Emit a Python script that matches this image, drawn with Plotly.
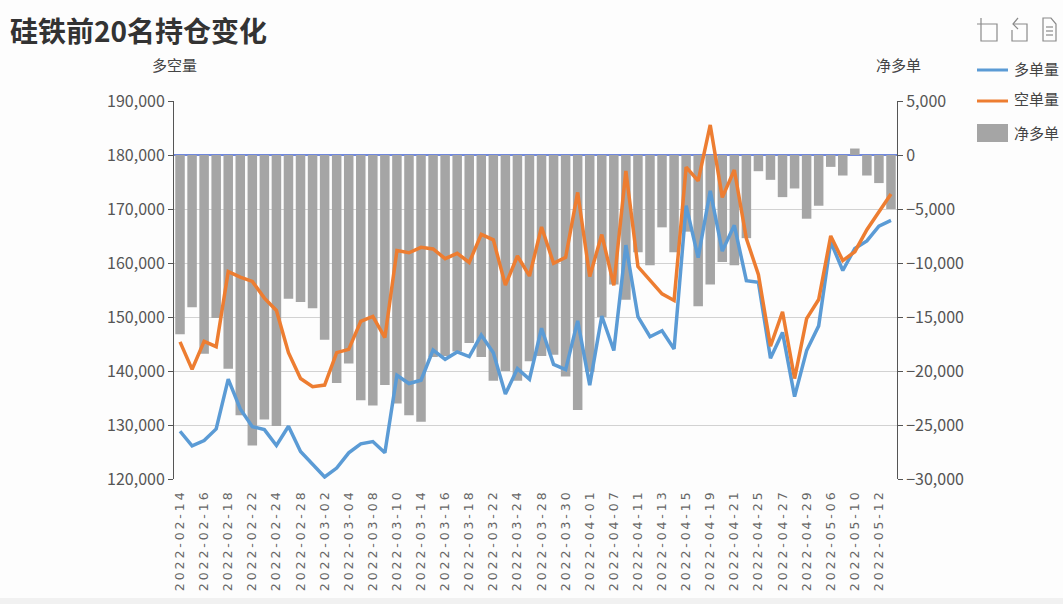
import plotly.graph_objects as go

dates = ["2022-02-14","2022-02-15","2022-02-16","2022-02-17","2022-02-18","2022-02-21","2022-02-22","2022-02-23","2022-02-24","2022-02-25",
"2022-02-28","2022-03-01","2022-03-02","2022-03-03","2022-03-04","2022-03-07","2022-03-08","2022-03-09","2022-03-10","2022-03-11",
"2022-03-14","2022-03-15","2022-03-16","2022-03-17","2022-03-18","2022-03-21","2022-03-22","2022-03-23","2022-03-24","2022-03-25",
"2022-03-28","2022-03-29","2022-03-30","2022-03-31","2022-04-01","2022-04-06","2022-04-07","2022-04-08","2022-04-11","2022-04-12",
"2022-04-13","2022-04-14","2022-04-15","2022-04-18","2022-04-19","2022-04-20","2022-04-21","2022-04-22","2022-04-25","2022-04-26",
"2022-04-27","2022-04-28","2022-04-29","2022-05-05","2022-05-06","2022-05-09","2022-05-10","2022-05-11","2022-05-12","2022-05-13"]

long_qty = [128840,126140,127120,129270,138480,132960,129700,129150,126200,129760,
125100,122820,120370,122030,124850,126510,126940,124850,139220,137680,
138300,143880,142170,143520,142660,146650,143390,135720,140450,138480,
147930,141220,140250,149280,137380,150190,143790,163310,150070,146350,
147450,144090,170630,160990,173370,162210,166970,156720,156410,142380,
147140,135250,143790,148360,163920,158610,162700,164100,166840,167880]

short_qty = [145400,140300,145500,144500,158400,157400,156600,153500,151200,143400,
138600,137100,137400,143400,144000,149200,150100,146200,162300,161900,
162900,162600,160800,161800,160100,165300,164300,155900,161300,157600,
166660,159950,161050,173070,157510,165260,155860,177030,159340,156900,
154280,153060,177760,175200,185570,172150,177210,164530,157820,144580,
150980,138600,149700,153240,165010,160440,162090,166170,169400,172760]

net_long = [-16600,-14100,-18400,-15100,-19800,-24100,-26900,-24500,-25100,-13300,
-13600,-14200,-17100,-21100,-19300,-22700,-23200,-21300,-23000,-24100,
-24700,-18700,-18600,-18200,-17400,-18700,-20900,-20000,-20900,-19100,
-18600,-18500,-20500,-23600,-20100,-15000,-12000,-13400,-9000,-10200,
-6700,-9000,-7100,-14000,-12000,-9900,-10200,-7700,-1500,-2300,
-3900,-3100,-5900,-4700,-1100,-1900,600,-1900,-2600,-5000]

x_ticks = dates[::2]
left_ticks = [120000,130000,140000,150000,160000,170000,180000,190000]
right_ticks = [-30000,-25000,-20000,-15000,-10000,-5000,0,5000]

TITLE = "硅铁前20名持仓变化"
CJK = "Noto Sans CJK SC"
BLUE, ORANGE, GREY = "#5b9bd5", "#ed7d31", "#a5a5a5"

L, R, T, B = 174, 897, 101, 479
def px(x): return (x - L) / (R - L)
def py(y): return (B - y) / (B - T)

def path(points, close=False):
    s = "M " + " L ".join(f"{px(x):.5f},{py(y):.5f}" for x, y in points)
    return s + (" Z" if close else "")

fig = go.Figure()
fig.add_bar(x=dates, y=net_long, name="净多单", marker_color=GREY, marker_line_width=0, width=0.79, yaxis="y")
fig.add_scatter(x=dates, y=long_qty, name="多单量", mode="lines", line=dict(color=BLUE, width=3.5), yaxis="y2")
fig.add_scatter(x=dates, y=short_qty, name="空单量", mode="lines", line=dict(color=ORANGE, width=3.5), yaxis="y2")

icon = dict(color="#8a8a8a", width=1.2)
shapes = [
    dict(type="rect", xref="paper", yref="paper", x0=px(0), x1=px(1063), y0=py(604), y1=py(598),
         fillcolor="#f1f1f1", line_width=0, layer="below"),
    dict(type="path", xref="paper", yref="paper", line=icon, path=path([(981,18),(981,41),(997,41),(997,24),(977,24)])),
    dict(type="path", xref="paper", yref="paper", line=icon, path=path([(1018,18),(1013,24),(1018,29)])),
    dict(type="path", xref="paper", yref="paper", line=icon, path=path([(1013,24),(1027,24),(1027,41),(1012,41),(1012,30)])),
    dict(type="path", xref="paper", yref="paper", line=icon, path=path([(1043,18),(1051,18),(1056,24),(1056,41),(1043,41)], True)),
]
for yy in (27, 31, 35):
    shapes.append(dict(type="line", xref="paper", yref="paper", line=icon, x0=px(1046), x1=px(1053), y0=py(yy), y1=py(yy)))
shapes += [
    dict(type="line", xref="paper", yref="paper", x0=px(977), x1=px(1008), y0=py(70), y1=py(70), line=dict(color=BLUE, width=3)),
    dict(type="line", xref="paper", yref="paper", x0=px(977), x1=px(1008), y0=py(101), y1=py(101), line=dict(color=ORANGE, width=3)),
    dict(type="rect", xref="paper", yref="paper", x0=px(977), x1=px(1008), y0=py(142), y1=py(124), fillcolor=GREY, line_width=0),
]

def note(text, x, y, size=15, anchor="left", color="#444", bold=False):
    return dict(text=f"<b>{text}</b>" if bold else text, x=px(x), y=py(y), xref="paper", yref="paper",
                showarrow=False, xanchor=anchor, yanchor="middle",
                font=dict(family=CJK, size=size, color=color))

annotations = [
    note(TITLE, 8, 30, size=28, color="#333", bold=True),
    note("多空量", 174, 65, anchor="center"),
    note("净多单", 898, 65, anchor="center"),
    note("多单量", 1012, 68),
    note("空单量", 1012, 99),
    note("净多单", 1012, 132),
]

axis_font = dict(family=CJK, size=16, color="#555")
fig.update_layout(
    width=1063, height=604, autosize=False,
    margin=dict(l=L, r=1063 - R, t=T, b=604 - B),
    paper_bgcolor="#fdfdfd", plot_bgcolor="#fdfdfd",
    showlegend=False, bargap=0.21, shapes=shapes, annotations=annotations,
    xaxis=dict(type="category", categoryorder="array", categoryarray=dates, range=[-0.5, 59.5],
               tickmode="array", tickvals=x_ticks, ticktext=x_ticks, tickangle=-90,
               tickfont=dict(family="DejaVu Sans", size=12.5, color="#666"), ticklabelstandoff=7,
               showgrid=False, showline=False, ticks="", ticklen=0, zeroline=False),
    yaxis=dict(side="right", range=[-30000, 5000], tickmode="array", tickvals=right_ticks,
               tickformat=",d", tickfont=axis_font, showgrid=True, gridcolor="#d2d2d2", gridwidth=1,
               zeroline=True, zerolinecolor="#7088dc", zerolinewidth=1.5,
               showline=True, linecolor="#555", linewidth=1, ticks="outside", ticklen=5, tickcolor="#555"),
    yaxis2=dict(side="left", overlaying="y", range=[120000, 190000], tickmode="array", tickvals=left_ticks,
                tickformat=",d", tickfont=axis_font, showgrid=False, zeroline=False,
                showline=True, linecolor="#555", linewidth=1, ticks="outside", ticklen=5, tickcolor="#555"),
)

fig.write_html("out.html", config={"displayModeBar": False}, post_script="""
document.body.style.margin='0';
document.querySelectorAll('.xtick text').forEach(function(t){t.style.letterSpacing='2.9px';});
""")
